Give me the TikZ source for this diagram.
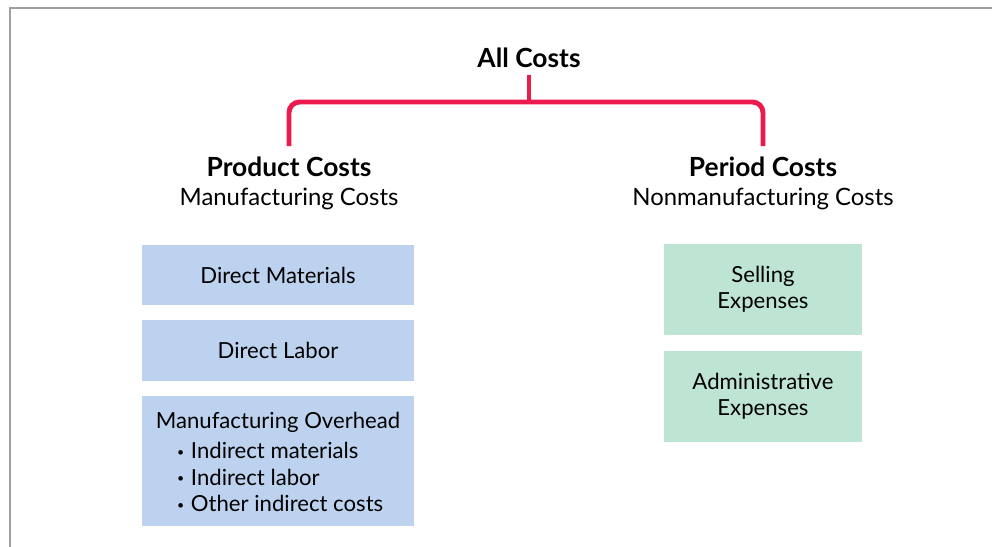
\documentclass[tikz,border=0pt]{standalone}
\usepackage{fontspec}
\setmainfont{Lato}
\usepackage{xcolor}
\usetikzlibrary{positioning}
\definecolor{costRed}{RGB}{237,27,77}
\definecolor{prodBlue}{RGB}{189,210,238}
\definecolor{perGreen}{RGB}{190,228,212}
\definecolor{frameGray}{RGB}{160,160,160}
\newcommand{\costbullet}{\raisebox{0.2ex}{\scriptsize\textbullet}\hspace{0.3em}}

\begin{document}
\begin{tikzpicture}[
  x=0.02cm, y=-0.02cm,
  head/.style={align=center, font=\fontsize{13.6}{16.4}\selectfont, inner sep=0pt, outer sep=6pt},
  prodbox/.style={fill=prodBlue, minimum width=5.44cm, align=center, font=\fontsize{12.6}{15.2}\selectfont},
  perbox/.style={fill=perGreen, minimum width=3.96cm, align=center, font=\fontsize{12.6}{15}\selectfont},
  bracket/.style={draw=costRed, line width=2.8pt, rounded corners=6pt}
]
  \useasboundingbox (0,0) rectangle (992,547);
  % frame
  \draw[frameGray, line width=1.2pt] (10,547) -- (10,8) -- (992,8);

  \node[head, outer sep=4pt] (all) at (529,58) {\fontsize{15}{18}\selectfont\textbf{All Costs}};
  \node[head] (prod) at (289,183) {{\fontsize{15}{18}\selectfont\textbf{Product Costs}}\\Manufacturing Costs};
  \node[head] (per) at (763,183) {{\fontsize{15}{18}\selectfont\textbf{Period Costs}}\\Nonmanufacturing Costs};

  \coordinate (fork) at (529,102);
  \draw[bracket] (all.south) -- (fork);
  \draw[bracket] (prod.north) |- (fork) -| (per.north);

  % product cost boxes
  \node[prodbox, minimum height=1.2cm] (dm) at (278,275) {Direct Materials};
  \node[prodbox, minimum height=1.22cm] (dl) at (278,350.5) {Direct Labor};
  \node[prodbox, minimum height=2.6cm] (mo) at (278,461) {};
  \node[align=center, font=\fontsize{12.6}{15.2}\selectfont] (motext) at (278,466)
    {Manufacturing Overhead\\[3pt]
     \hspace*{0.2em}{\renewcommand{\arraystretch}{1.0}\begin{tabular}{@{}l@{}}
     \costbullet Indirect materials\\
     \costbullet Indirect labor\\
     \costbullet Other indirect costs
     \end{tabular}}};

  % period cost boxes
  \node[perbox, minimum height=1.82cm] (sell) at (763,289.5) {Selling\\Expenses};
  \node[perbox, minimum height=1.82cm] (adm) at (763,396.5) {Administrative\\Expenses};
\end{tikzpicture}
\end{document}
